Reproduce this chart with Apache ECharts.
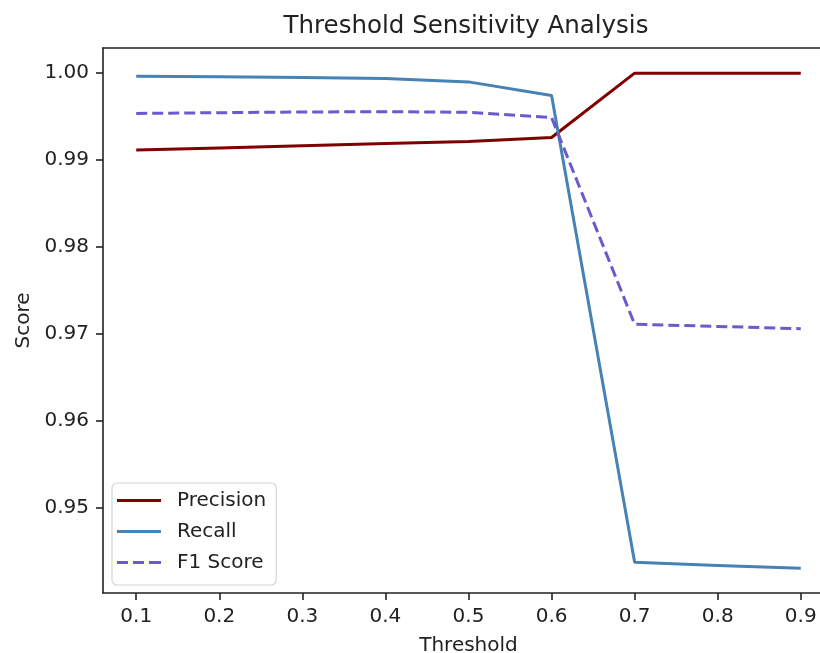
<!DOCTYPE html>
<html>
<head>
<meta charset="utf-8">
<script src="https://cdn.jsdelivr.net/npm/echarts@6/dist/echarts.min.js"></script>
<style>html,body{margin:0;padding:0;background:#fff;}#c{width:820px;height:653px;}</style>
</head>
<body>
<div id="c"></div>
<script>
const thresholds = [0.1, 0.2, 0.3, 0.4, 0.5, 0.6, 0.7, 0.8, 0.9];
const precision = [0.99113, 0.99137, 0.99161, 0.99186, 0.99210, 0.99257, 0.99995, 0.99995, 0.99995];
const recall = [0.99961, 0.99953, 0.99946, 0.99934, 0.99895, 0.99739, 0.94378, 0.94343, 0.94309];
const f1 = [0.99533, 0.99541, 0.99549, 0.99553, 0.99545, 0.99486, 0.97112, 0.97087, 0.97061];
const xTicks = [0.1, 0.2, 0.3, 0.4, 0.5, 0.6, 0.7, 0.8, 0.9];
const yTicks = [0.95, 0.96, 0.97, 0.98, 0.99, 1.00];
const seriesNames = ['Precision', 'Recall', 'F1 Score'];

const font = 'DejaVu Sans';
const ink = '#222';
const pairs = arr => thresholds.map((t, i) => [t, arr[i]]);
const X_MIN = 0.06, X_MAX = 0.94;
const SOLID = 'path://M0,0h44v3h-44z';
const DASHED = 'path://M0,0h11v3h-11z M16,0h11v3h-11z M32,0h12v3h-12z';

const chart = echarts.init(document.getElementById('c'));
chart.setOption({
  animation: false,
  backgroundColor: '#fff',
  title: {
    text: 'Threshold Sensitivity Analysis',
    left: 461, top: 9, textAlign: 'center',
    textStyle: {fontFamily: font, fontSize: 24.5, fontWeight: 'normal', color: ink}
  },
  grid: {left: 103, top: 48, width: 731, height: 545, show: false, outerBoundsMode: 'none', containLabel: false},
  xAxis: [{
    type: 'value', min: X_MIN, max: X_MAX,
    name: 'Threshold', nameLocation: 'middle', nameGap: 43,
    nameTextStyle: {fontFamily: font, fontSize: 20, color: ink},
    axisLine: {show: true, onZero: false, lineStyle: {color: ink, width: 1.6}},
    axisTick: {show: true, length: 7, lineStyle: {color: ink, width: 1.6}, customValues: xTicks},
    axisLabel: {fontFamily: font, fontSize: 20, color: ink, margin: 14, customValues: xTicks, formatter: v => v.toFixed(1)},
    splitLine: {show: false}
  }, {
    type: 'value', position: 'top', min: X_MIN, max: X_MAX,
    axisLine: {show: true, onZero: false, lineStyle: {color: ink, width: 1.6}},
    axisTick: {show: false}, axisLabel: {show: false}, splitLine: {show: false}
  }],
  yAxis: {
    type: 'value', min: 0.94026, max: 1.00284,
    name: 'Score', nameLocation: 'middle', nameGap: 68,
    nameTextStyle: {fontFamily: font, fontSize: 20, color: ink},
    axisLine: {show: true, onZero: false, lineStyle: {color: ink, width: 1.6}},
    axisTick: {show: true, length: 7, lineStyle: {color: ink, width: 1.6}, customValues: yTicks},
    axisLabel: {fontFamily: font, fontSize: 20, color: ink, margin: 14, customValues: yTicks, formatter: v => v.toFixed(2)},
    splitLine: {show: false}
  },
  legend: {
    orient: 'vertical', left: 112, top: 483,
    padding: [7, 10, 12, 5], itemGap: 10, itemWidth: 44, itemHeight: 3,
    backgroundColor: '#fff', borderColor: '#d5d5d5', borderWidth: 1.2, borderRadius: 5,
    textStyle: {fontFamily: font, fontSize: 20, color: ink, lineHeight: 21, padding: [0, 0, 0, 11]},
    data: [
      {name: seriesNames[0], icon: SOLID},
      {name: seriesNames[1], icon: SOLID},
      {name: seriesNames[2], icon: DASHED}
    ]
  },
  series: [
    {name: seriesNames[0], type: 'line', data: pairs(precision), showSymbol: false, symbol: 'none',
     lineStyle: {color: '#800000', width: 3}, itemStyle: {color: '#800000'}},
    {name: seriesNames[1], type: 'line', data: pairs(recall), showSymbol: false, symbol: 'none',
     lineStyle: {color: '#4682B4', width: 3}, itemStyle: {color: '#4682B4'}},
    {name: seriesNames[2], type: 'line', data: pairs(f1), showSymbol: false, symbol: 'none',
     lineStyle: {color: '#6A5ACD', width: 3, type: [11, 5]}, itemStyle: {color: '#6A5ACD'}}
  ]
});
</script>
</body>
</html>
